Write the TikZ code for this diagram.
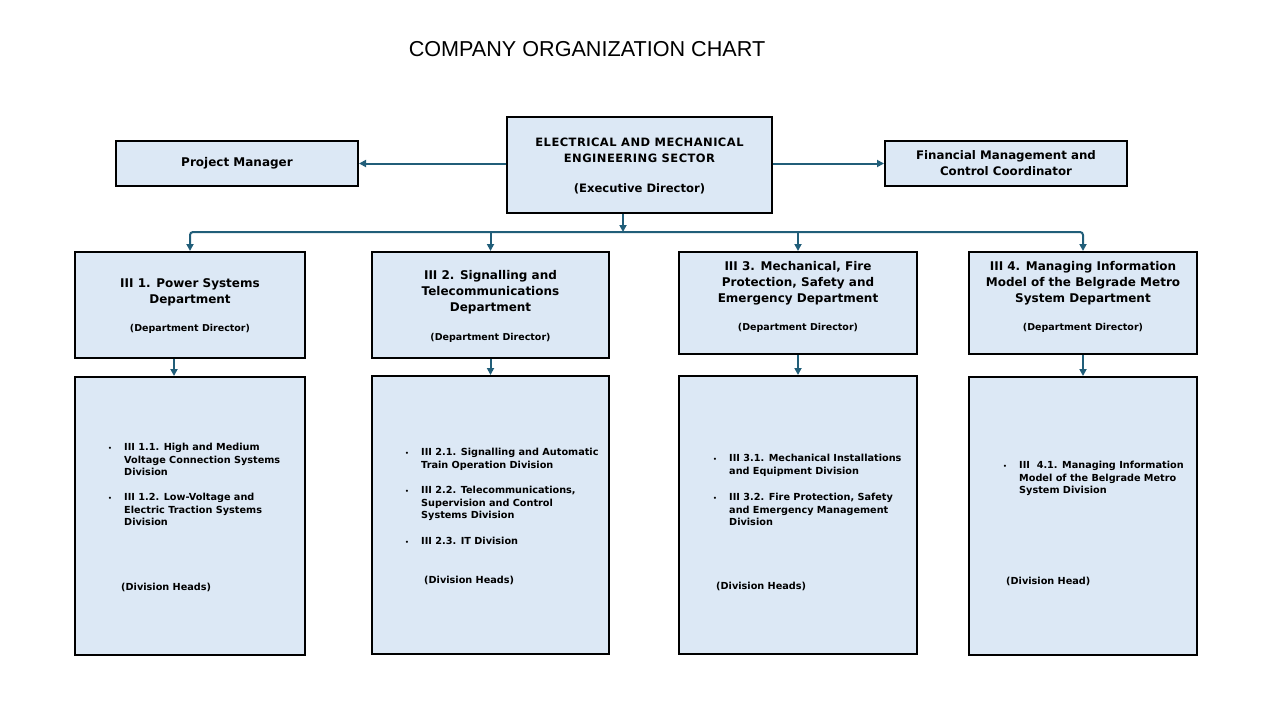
\documentclass[tikz,border=0pt]{standalone}
\usepackage{fontspec}
\setmainfont{DejaVu Sans}
\newfontfamily\titlefont{Liberation Sans}
\usetikzlibrary{arrows.meta}
\definecolor{boxblue}{HTML}{DCE8F5}
\definecolor{linkteal}{HTML}{215E79}
\newcommand{\bul}{{\fontsize{6}{6}\selectfont\textbullet}}
\begin{document}
\begin{tikzpicture}[x=1pt, y=-1pt,
  orgbox/.style={draw, line width=2pt, fill=boxblue, inner sep=0pt},
  link/.style={draw=linkteal, line width=2pt, -{Triangle[length=7pt,width=7pt]}},
  headtext/.style={font=\fontsize{12}{16}\selectfont\bfseries, align=center, inner sep=0pt},
  roletext/.style={font=\fontsize{9.5}{11}\selectfont\bfseries, inner sep=0pt},
  itemtext/.style={font=\fontsize{9.7}{12.6}\selectfont\bfseries, anchor=base west, inner sep=0pt}]
\useasboundingbox (0,0) rectangle (1280,720);
\node[font=\titlefont\fontsize{21.6}{26}\selectfont] (title) at (587,49) {COMPANY ORGANIZATION CHART};
% top level
\node[orgbox, minimum width=265, minimum height=96] (exec) at (639.5,165) {};
\node[headtext, font=\fontsize{11.5}{16}\selectfont\bfseries\addfontfeature{LetterSpace=4}] (exect) at (639.5,150) {ELECTRICAL AND MECHANICAL\\ENGINEERING SECTOR};
\node[headtext, font=\fontsize{11.6}{14}\selectfont\bfseries] (execr) at (639.5,189) {(Executive Director)};
\node[orgbox, minimum width=242, minimum height=45, headtext] (pm) at (237,163.5) {Project Manager};
\node[orgbox, minimum width=242, minimum height=45, headtext, font=\fontsize{11.8}{16}\selectfont\bfseries] (fin) at (1006,163.5) {Financial Management and\\Control Coordinator};
% departments
\node[orgbox, minimum width=230, minimum height=106] (d1) at (190,305) {};
\node[orgbox, minimum width=237, minimum height=106] (d2) at (490.5,305) {};
\node[orgbox, minimum width=238, minimum height=102] (d3) at (798,303) {};
\node[orgbox, minimum width=228, minimum height=102] (d4) at (1083,303) {};
\node[headtext] (d1t) at (190,292) {III 1. Power Systems\\Department};
\node[headtext] (d2t) at (490.5,292) {III 2. Signalling and\\Telecommunications\\Department};
\node[headtext] (d3t) at (798,283) {III 3. Mechanical, Fire\\Protection, Safety and\\Emergency Department};
\node[headtext] (d4t) at (1083,283) {III 4. Managing Information\\Model of the Belgrade Metro\\System Department};
\node[roletext] (d1r) at (190,329) {(Department Director)};
\node[roletext] (d2r) at (490.5,338) {(Department Director)};
\node[roletext] (d3r) at (798,328) {(Department Director)};
\node[roletext] (d4r) at (1083,328) {(Department Director)};
% divisions
\node[orgbox, minimum width=230, minimum height=278] (v1) at (190,516) {};
\node[orgbox, minimum width=237, minimum height=278] (v2) at (490.5,515) {};
\node[orgbox, minimum width=238, minimum height=278] (v3) at (798,515) {};
\node[orgbox, minimum width=228, minimum height=278] (v4) at (1083,516) {};
\node[itemtext] (v1a) at (108,450.5) {\begin{tabular}[t]{@{}p{16pt}@{}l@{}}\bul & III 1.1. High and Medium\\ & Voltage Connection Systems\\ & Division\end{tabular}};
\node[itemtext] (v1b) at (108,500.5) {\begin{tabular}[t]{@{}p{16pt}@{}l@{}}\bul & III 1.2. Low-Voltage and\\ & Electric Traction Systems\\ & Division\end{tabular}};
\node[itemtext] (v1r) at (121,590) {(Division Heads)};
\node[itemtext] (v2a) at (405,455.5) {\begin{tabular}[t]{@{}p{16pt}@{}l@{}}\bul & III 2.1. Signalling and Automatic\\ & Train Operation Division\end{tabular}};
\node[itemtext] (v2b) at (405,493.5) {\begin{tabular}[t]{@{}p{16pt}@{}l@{}}\bul & III 2.2. Telecommunications,\\ & Supervision and Control\\ & Systems Division\end{tabular}};
\node[itemtext] (v2c) at (405,544.5) {\begin{tabular}[t]{@{}p{16pt}@{}l@{}}\bul & III 2.3. IT Division\end{tabular}};
\node[itemtext] (v2r) at (424,583.5) {(Division Heads)};
\node[itemtext] (v3a) at (713,461.5) {\begin{tabular}[t]{@{}p{16pt}@{}l@{}}\bul & III 3.1. Mechanical Installations\\ & and Equipment Division\end{tabular}};
\node[itemtext] (v3b) at (713,500.5) {\begin{tabular}[t]{@{}p{16pt}@{}l@{}}\bul & III 3.2. Fire Protection, Safety\\ & and Emergency Management\\ & Division\end{tabular}};
\node[itemtext] (v3r) at (716,589.5) {(Division Heads)};
\node[itemtext] (v4a) at (1003,468.5) {\begin{tabular}[t]{@{}p{16pt}@{}l@{}}\bul & III~~4.1. Managing Information\\ & Model of the Belgrade Metro\\ & System Division\end{tabular}};
\node[itemtext] (v4r) at (1006,584.5) {(Division Head)};
% connectors
\coordinate (bus) at (623,232);
\draw[link] (exec.west |- pm.east) -- (pm.east);
\draw[link] (exec.east |- fin.west) -- (fin.west);
\draw[link] (exec.south -| bus) -- (bus);
\draw[link, rounded corners=3pt] (bus) -| (d1.north);
\draw[link, rounded corners=3pt] (bus) -| (d4.north);
\draw[link] (d2.north |- bus) -- (d2.north);
\draw[link] (d3.north |- bus) -- (d3.north);
\draw[link] ([xshift=-16pt]d1.south) -- ([xshift=-16pt]v1.north);
\draw[link] (d2.south) -- (v2.north);
\draw[link] (d3.south) -- (v3.north);
\draw[link] (d4.south) -- (v4.north);
\end{tikzpicture}
\end{document}
